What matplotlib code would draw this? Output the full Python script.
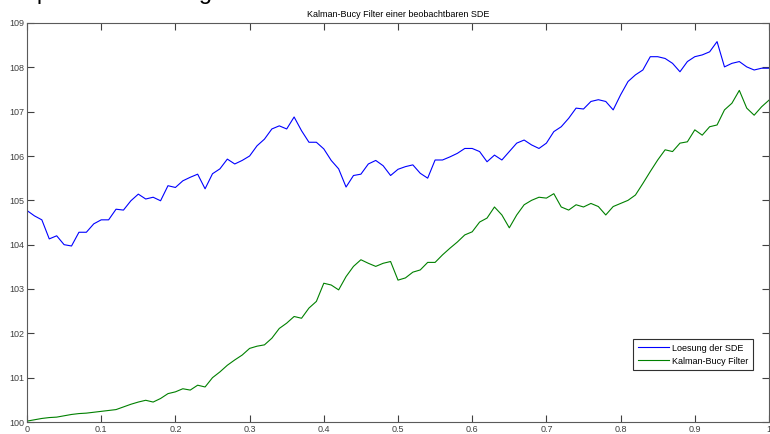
import numpy as np
import matplotlib
matplotlib.use('Agg')
import matplotlib.pyplot as plt

plt.rcParams['font.family'] = ['Liberation Sans', 'DejaVu Sans']

# time grid (read every 0.01 off the picture)
t = [round(0.01 * k, 2) for k in range(101)]

# Loesung der SDE (blue)
sde = [104.77, 104.65, 104.56, 104.13, 104.20, 104.00, 103.97, 104.28, 104.28, 104.47,
       104.56, 104.56, 104.80, 104.78, 104.99, 105.14, 105.03, 105.07, 104.99, 105.33,
       105.29, 105.44, 105.52, 105.59, 105.26, 105.60, 105.71, 105.93, 105.82, 105.90,
       106.00, 106.23, 106.38, 106.61, 106.68, 106.61, 106.88, 106.57, 106.31, 106.31,
       106.16, 105.90, 105.71, 105.30, 105.56, 105.59, 105.82, 105.90, 105.78, 105.56,
       105.70, 105.76, 105.80, 105.61, 105.50, 105.91, 105.91, 105.98, 106.06, 106.17,
       106.17, 106.10, 105.87, 106.02, 105.91, 106.10, 106.29, 106.36, 106.25, 106.17,
       106.29, 106.55, 106.66, 106.85, 107.08, 107.06, 107.23, 107.27, 107.23, 107.04,
       107.38, 107.68, 107.83, 107.94, 108.24, 108.24, 108.20, 108.09, 107.90, 108.13,
       108.24, 108.28, 108.35, 108.58, 108.01, 108.09, 108.13, 108.01, 107.94, 107.98,
       107.98]

# Kalman-Bucy Filter (green)
kbf = [100.02, 100.05, 100.08, 100.10, 100.11, 100.14, 100.17, 100.19, 100.20, 100.22,
       100.24, 100.26, 100.28, 100.34, 100.40, 100.45, 100.49, 100.45, 100.53, 100.64,
       100.68, 100.75, 100.72, 100.83, 100.79, 101.00, 101.13, 101.28, 101.40, 101.51,
       101.66, 101.71, 101.74, 101.89, 102.11, 102.23, 102.38, 102.34, 102.57, 102.72,
       103.13, 103.09, 102.98, 103.28, 103.51, 103.66, 103.58, 103.51, 103.58, 103.62,
       103.20, 103.25, 103.38, 103.43, 103.60, 103.60, 103.77, 103.92, 104.06, 104.22,
       104.29, 104.51, 104.60, 104.85, 104.67, 104.38, 104.67, 104.90, 105.00, 105.07,
       105.05, 105.15, 104.85, 104.78, 104.90, 104.85, 104.93, 104.86, 104.67, 104.86,
       104.93, 105.00, 105.12, 105.38, 105.65, 105.91, 106.14, 106.10, 106.29, 106.32,
       106.59, 106.47, 106.66, 106.70, 107.04, 107.19, 107.48, 107.08, 106.92, 107.11,
       107.26]

fig = plt.figure(figsize=(7.7, 4.34), dpi=100)
ax = fig.add_axes([27/770, 12/434, 742/770, 399/434])

ax.plot(t, sde, color=(0, 0, 1), lw=0.8, label='Loesung der SDE')
ax.plot(t, kbf, color=(0, 0.5, 0), lw=0.8, label='Kalman-Bucy Filter')

ax.set_xlim(0, 1)
ax.set_ylim(100, 109)
ax.set_xticks(np.arange(0, 1.01, 0.1))
ax.set_xticklabels(['0', '0.1', '0.2', '0.3', '0.4', '0.5', '0.6', '0.7', '0.8', '0.9', '1'])
ax.set_yticks(range(100, 110))
ax.tick_params(direction='in', length=5, width=0.8, top=True, right=True,
               labelsize=6.5, colors='#404040', pad=2)
for s in ax.spines.values():
    s.set_color('#5a5a5a')
    s.set_linewidth(0.8)

ax.set_title('Kalman-Bucy Filter einer beobachtbaren SDE', fontsize=6.5, pad=4)

leg = ax.legend(loc='lower right', bbox_to_anchor=(0.978, 0.13), fontsize=6.5,
                fancybox=False, framealpha=1, edgecolor='#303030',
                borderpad=0.5, handlelength=3.5, handletextpad=0.3, labelspacing=0.45,
                borderaxespad=0)
leg.get_frame().set_linewidth(0.8)

# cut-off text of the surrounding document at the top edge
fig.text(-0.012, 1 + 1/434, 'Beispiel zur Filterung', fontsize=17, va='baseline')

fig.savefig('out.png', dpi=100)
